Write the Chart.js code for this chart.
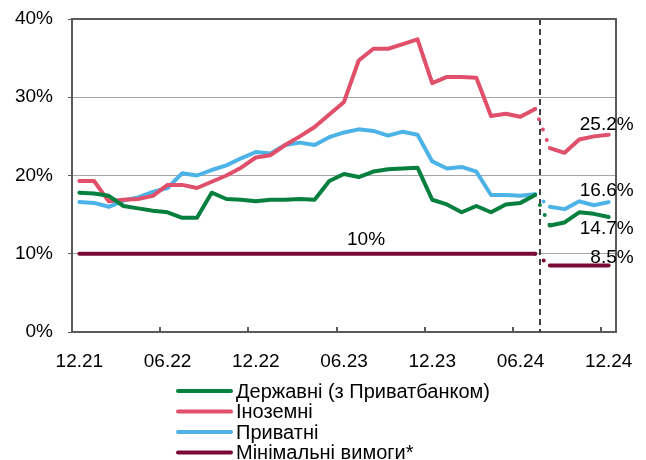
<!DOCTYPE html>
<html>
<head>
<meta charset="utf-8">
<script src="https://cdn.jsdelivr.net/npm/chart.js@4"></script>
<style>
  body { margin: 0; background: #fff; }
  #wrap { width: 646px; height: 460px; }
</style>
</head>
<body>
<div id="wrap"><canvas id="chart" width="646" height="460"></canvas></div>
<script>
// Month labels 12.21 .. 12.24
const months = [
    '12.21', '01.22', '02.22', '03.22', '04.22', '05.22', '06.22', '07.22', '08.22', '09.22', '10.22', '11.22',
    '12.22', '01.23', '02.23', '03.23', '04.23', '05.23', '06.23', '07.23', '08.23', '09.23', '10.23', '11.23',
    '12.23', '01.24', '02.24', '03.24', '04.24', '05.24', '06.24', '07.24', '08.24', '09.24', '10.24', '11.24',
    '12.24'
];

// Series values, %
const stateBanks = [17.8, 17.7, 17.4, 16.1, 15.8, 15.5, 15.3, 14.6, 14.6, 17.8, 17.0, 16.9, 16.7, 16.9, 16.9, 17.0, 16.9,
    19.3, 20.2, 19.8, 20.5, 20.8, 20.9, 21.0, 16.9, 16.3, 15.3, 16.1, 15.3, 16.3, 16.5, 17.5, 13.6, 14.0, 15.3, 15.1, 14.7];
const foreignBanks = [19.3, 19.3, 16.7, 16.9, 17.0, 17.4, 18.8, 18.8, 18.4, 19.2, 20.0, 21.0, 22.3, 22.6, 23.9, 25.0, 26.2,
    27.8, 29.4, 34.7, 36.2, 36.2, 36.8, 37.4, 31.8, 32.6, 32.6, 32.5, 27.6, 27.9, 27.5, 28.5, 23.5, 22.9, 24.6, 25.0, 25.2];
const privateBanks = [16.6, 16.5, 16.0, 16.8, 17.2, 17.9, 18.4, 20.3, 20.0, 20.7, 21.3, 22.2, 23.0, 22.8, 23.9, 24.2, 23.9,
    24.9, 25.5, 25.9, 25.7, 25.1, 25.6, 25.2, 21.8, 20.9, 21.1, 20.5, 17.5, 17.5, 17.4, 17.6, 16.0, 15.7, 16.7, 16.2, 16.6];
const minRequirement = [10, 10, 10, 10, 10, 10, 10, 10, 10, 10, 10, 10, 10, 10, 10, 10, 10,
    10, 10, 10, 10, 10, 10, 10, 10, 10, 10, 10, 10, 10, 10, 10, 8.5, 8.5, 8.5, 8.5, 8.5];

const seriesNames = ['Державні (з Приватбанком)', 'Іноземні', 'Приватні', 'Мінімальні вимоги*'];
const yTicks = [0, 10, 20, 30, 40];

// index of the last month before the break (07.24)
const breakIndex = 31;

const colors = ['#07803f', '#e0506a', '#4db3e6', '#7a0a35'];
const FONT = 'Liberation Sans, Arial, sans-serif';
const AXIS = '#595959';

Chart.defaults.font.family = FONT;
Chart.defaults.font.size = 19;
Chart.defaults.color = '#000';

function makeSet(label, data, color) {
    return {
        label: label,
        data: data,
        borderColor: color,
        backgroundColor: color,
        borderWidth: 4,
        borderCapStyle: 'round',
        borderJoinStyle: 'round',
        pointRadius: 0,
        tension: 0,
        segment: {
            // dotted jump across the break
            borderDash: ctx => ctx.p0DataIndex === breakIndex ? [0, 11] : undefined
        }
    };
}

// Box, inner tick marks, dashed break line, data labels and the legend
const extras = {
    id: 'extras',
    beforeDatasetsDraw(chart) {
        const { ctx, chartArea: a, scales: { x } } = chart;
        const step = x.getPixelForValue(1) - x.getPixelForValue(0);
        ctx.save();
        // category ticks, pointing into the plot
        ctx.strokeStyle = AXIS;
        ctx.lineWidth = 2;
        months.forEach((m, i) => {
            if (i % 6 !== 0 || i === 0) return;
            const px = Math.round(x.getPixelForValue(i) - step / 2);
            ctx.beginPath();
            ctx.moveTo(px, a.bottom);
            ctx.lineTo(px, a.bottom - 5);
            ctx.stroke();
        });
        // dashed vertical break line
        const bx = Math.round(x.getPixelForValue(breakIndex) + step * 0.3);
        ctx.setLineDash([6, 4]);
        ctx.strokeStyle = '#404040';
        ctx.beginPath();
        ctx.moveTo(bx, a.top);
        ctx.lineTo(bx, a.bottom);
        ctx.stroke();
        ctx.restore();
    },
    afterDraw(chart) {
        const { ctx, chartArea: a } = chart;
        ctx.save();
        // top and right sides of the plot box
        ctx.strokeStyle = AXIS;
        ctx.lineWidth = 2;
        ctx.beginPath();
        ctx.moveTo(a.left, a.top);
        ctx.lineTo(a.right, a.top);
        ctx.lineTo(a.right, a.bottom);
        ctx.stroke();

        ctx.font = '19px ' + FONT;
        ctx.fillStyle = '#000';
        ctx.textBaseline = 'middle';
        const dy = [12, -10, -11, -8];
        chart.data.datasets.forEach((ds, k) => {
            const pts = chart.getDatasetMeta(k).data;
            const last = pts[pts.length - 1];
            ctx.textAlign = 'right';
            ctx.fillText(ds.data[ds.data.length - 1].toFixed(1) + '%', last.x + 25, last.y + dy[k]);
        });
        // label on the minimum requirement line
        const mPts = chart.getDatasetMeta(3).data;
        ctx.textAlign = 'center';
        ctx.fillText(minRequirement[19] + '%', (mPts[19].x + mPts[20].x) / 2, mPts[19].y - 14);

        // legend, one item per row
        ctx.font = '20px ' + FONT;
        chart.data.datasets.forEach((ds, k) => {
            const y = 391 + k * 20.5;
            ctx.strokeStyle = ds.borderColor;
            ctx.lineWidth = 4;
            ctx.lineCap = 'round';
            ctx.beginPath();
            ctx.moveTo(178, y);
            ctx.lineTo(231, y);
            ctx.stroke();
            ctx.textAlign = 'left';
            ctx.fillText(ds.label, 236, y + 1);
        });
        ctx.restore();
    }
};

new Chart(document.getElementById('chart'), {
    type: 'line',
    data: {
        labels: months,
        datasets: [
            makeSet(seriesNames[0], stateBanks, colors[0]),
            makeSet(seriesNames[1], foreignBanks, colors[1]),
            makeSet(seriesNames[2], privateBanks, colors[2]),
            makeSet(seriesNames[3], minRequirement, colors[3])
        ]
    },
    options: {
        responsive: false,
        animation: false,
        layout: { padding: { top: 19, right: 30, bottom: 86, left: 0 } },
        plugins: {
            legend: { display: false },
            tooltip: { enabled: false }
        },
        scales: {
            x: {
                offset: true,
                grid: { display: false },
                border: { display: true, color: AXIS, width: 2 },
                ticks: {
                    autoSkip: false,
                    maxRotation: 0,
                    padding: 10,
                    callback: (v, i) => i % 6 === 0 ? months[i] : null
                },
                afterFit: s => {
                    s.height = 42;
                    s.paddingLeft = 0;
                    s.paddingRight = 0;
                }
            },
            y: {
                min: yTicks[0],
                max: yTicks[yTicks.length - 1],
                afterBuildTicks: s => { s.ticks = yTicks.map(v => ({ value: v })); },
                grid: { color: '#a6a6a6', lineWidth: 1, tickLength: 4, tickColor: AXIS },
                border: { display: true, color: AXIS, width: 2 },
                ticks: { padding: 15, callback: v => v + '%' },
                afterFit: s => {
                    s.width = 72;
                    s.paddingTop = 0;
                    s.paddingBottom = 0;
                }
            }
        }
    },
    plugins: [extras]
});
</script>
</body>
</html>
